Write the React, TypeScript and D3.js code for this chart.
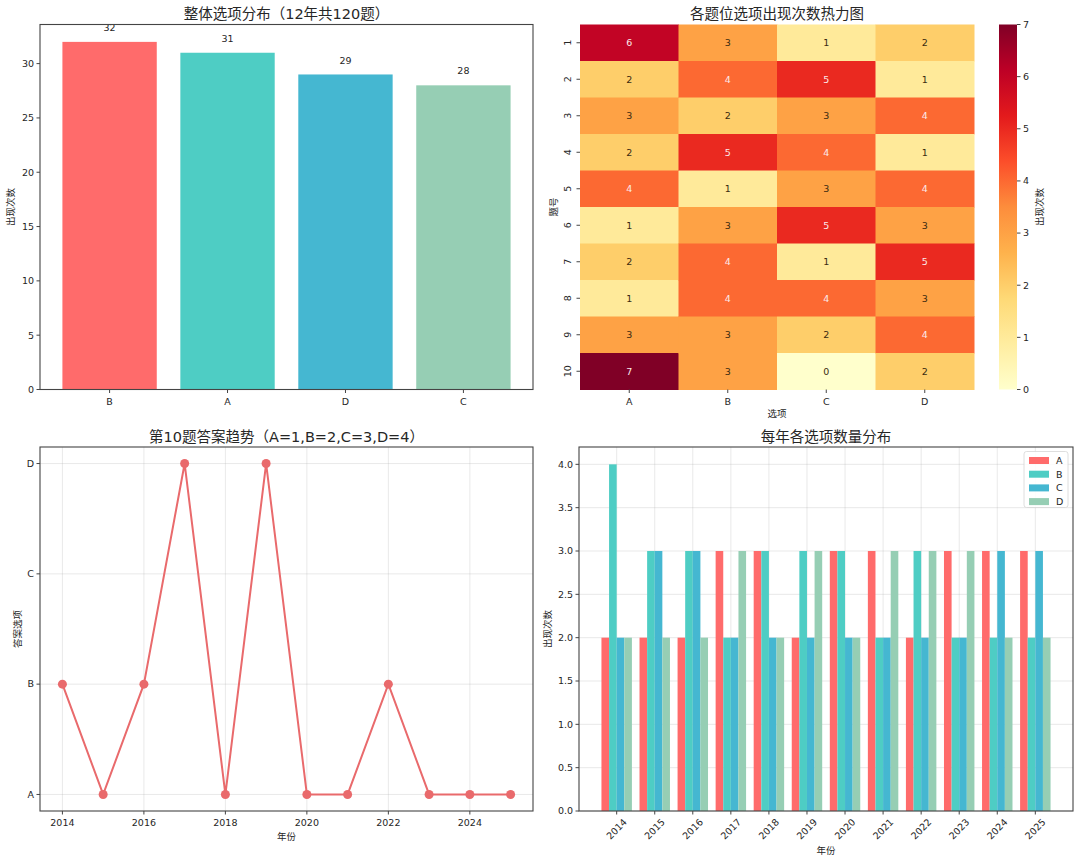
import React from 'react';
import * as d3 from 'd3';

// ---------- DATA ----------
const overallCats = ['B', 'A', 'D', 'C'];
const overallCounts = [32, 31, 29, 28];
const overallColors = ['#FF6B6B', '#4ECDC4', '#45B7D1', '#96CEB4'];

const heatRows = ['1', '2', '3', '4', '5', '6', '7', '8', '9', '10'];
const heatCols = ['A', 'B', 'C', 'D'];
const heatA = [6, 2, 3, 2, 4, 1, 2, 1, 3, 7];
const heatB = [3, 4, 2, 5, 1, 3, 4, 4, 3, 3];
const heatC = [1, 5, 3, 4, 3, 5, 1, 4, 2, 0];
const heatD = [2, 1, 4, 1, 4, 3, 5, 3, 4, 2];
const cbTicks = [0, 1, 2, 3, 4, 5, 6, 7];
const ylorrd = ['#ffffcc', '#ffeda0', '#fed976', '#feb24c', '#fd8d3c', '#fc4e2a', '#e31a1c', '#bd0026', '#800026'];

const years = [2014, 2015, 2016, 2017, 2018, 2019, 2020, 2021, 2022, 2023, 2024, 2025];
const q10Answers = ['B', 'A', 'B', 'D', 'A', 'D', 'A', 'A', 'B', 'A', 'A', 'A'];
const answerCodes = ['A', 'B', 'C', 'D'];
const lineXTicks = [2014, 2016, 2018, 2020, 2022, 2024];

const yearA = [2, 2, 2, 3, 3, 2, 3, 3, 2, 3, 3, 3];
const yearB = [4, 3, 3, 2, 3, 3, 3, 2, 3, 2, 2, 2];
const yearC = [2, 3, 3, 2, 2, 2, 2, 2, 2, 2, 3, 3];
const yearD = [2, 2, 2, 3, 2, 3, 2, 3, 3, 3, 2, 2];
const yearSeriesNames = ['A', 'B', 'C', 'D'];
const yearColors = ['#FF6B6B', '#4ECDC4', '#45B7D1', '#96CEB4'];
const yearYTicks = [0, 0.5, 1, 1.5, 2, 2.5, 3, 3.5, 4];

// ---------- STYLE ----------
const FONT = '"DejaVu Sans", "Noto Sans CJK SC", sans-serif';
const TXT = '#262626';
const SPINE = '#444';
const GRID = 'rgba(176,176,176,0.35)';
const TICK_FS = 9.5;

function luminance(c: string) {
  const rgb = d3.rgb(c);
  const f = (v: number) => {
    v = v / 255;
    return v <= 0.03928 ? v / 12.92 : Math.pow((v + 0.055) / 1.055, 2.4);
  };
  return 0.2126 * f(rgb.r) + 0.7152 * f(rgb.g) + 0.0722 * f(rgb.b);
}

function Frame({ x0, x1, y0, y1 }: any) {
  return <rect x={x0} y={y0} width={x1 - x0} height={y1 - y0} fill="none" stroke={SPINE} strokeWidth={1.1} />;
}

function OverallBar() {
  const L = 40, R = 533, T = 24.5, B = 389.5;
  const x = d3.scaleLinear().domain([-0.59, 3.59]).range([L, R]);
  const y = d3.scaleLinear().domain([0, 33.6]).range([B, T]);
  const yt = d3.range(0, 31, 5);
  return (
    <g>
      <text x={(L + R) / 2} y={19} textAnchor="middle" fontSize={14.5} fill={TXT}>整体选项分布（12年共120题）</text>
      {overallCats.map((c, i) => (
        <g key={c}>
          <rect x={x(i - 0.4)} y={y(overallCounts[i])} width={x(i + 0.4) - x(i - 0.4)} height={B - y(overallCounts[i])} fill={overallColors[i]} />
          <text x={x(i)} y={y(overallCounts[i] + 1)} textAnchor="middle" fontSize={9.5} fill={TXT}>{overallCounts[i]}</text>
          <line x1={x(i)} x2={x(i)} y1={B} y2={B + 3.5} stroke={SPINE} />
          <text x={x(i)} y={B + 15} textAnchor="middle" fontSize={TICK_FS} fill={TXT}>{c}</text>
        </g>
      ))}
      {yt.map(v => (
        <g key={v}>
          <line x1={L - 3.5} x2={L} y1={y(v)} y2={y(v)} stroke={SPINE} />
          <text x={L - 6} y={y(v)} dy="0.35em" textAnchor="end" fontSize={TICK_FS} fill={TXT}>{v}</text>
        </g>
      ))}
      <Frame x0={L} x1={R} y0={T} y1={B} />
      <text transform={`translate(14,${(T + B) / 2}) rotate(-90)`} textAnchor="middle" fontSize={9.5} fill={TXT}>出现次数</text>
    </g>
  );
}

function Heatmap() {
  const L = 580, R = 974, T = 24.5, B = 389.5;
  const x = d3.scaleBand().domain(heatCols).range([L, R]);
  const y = d3.scaleBand().domain(heatRows).range([T, B]);
  const cols = [heatA, heatB, heatC, heatD];
  const color = d3.scaleLinear<string>().domain(d3.range(9).map(i => (i * 7) / 8)).range(ylorrd).interpolate(d3.interpolateRgb);
  const cbL = 999, cbR = 1017;
  const cy = d3.scaleLinear().domain([0, 7]).range([B, T]);
  return (
    <g>
      <defs>
        <linearGradient id="cbgrad" x1="0" y1="1" x2="0" y2="0">
          {ylorrd.map((c, i) => <stop key={i} offset={i / 8} stopColor={c} />)}
        </linearGradient>
      </defs>
      <text x={(L + R) / 2} y={19} textAnchor="middle" fontSize={14.5} fill={TXT}>各题位选项出现次数热力图</text>
      {heatCols.map((c, j) =>
        heatRows.map((r, i) => {
          const v = cols[j][i];
          const fill = color(v);
          const tc = luminance(fill) > 0.408 ? '#3a2a10' : '#fbeaea';
          return (
            <g key={c + r}>
              <rect x={x(c)!} y={y(r)!} width={x.bandwidth() + 0.5} height={y.bandwidth() + 0.5} fill={fill} />
              <text x={x(c)! + x.bandwidth() / 2} y={y(r)! + y.bandwidth() / 2} dy="0.35em" textAnchor="middle" fontSize={9.5} fill={tc}>{v}</text>
            </g>
          );
        })
      )}
      {heatCols.map(c => (
        <g key={c}>
          <line x1={x(c)! + x.bandwidth() / 2} x2={x(c)! + x.bandwidth() / 2} y1={B} y2={B + 3.5} stroke={SPINE} />
          <text x={x(c)! + x.bandwidth() / 2} y={B + 15} textAnchor="middle" fontSize={TICK_FS} fill={TXT}>{c}</text>
        </g>
      ))}
      {heatRows.map(r => (
        <g key={r}>
          <line x1={L - 3.5} x2={L} y1={y(r)! + y.bandwidth() / 2} y2={y(r)! + y.bandwidth() / 2} stroke={SPINE} />
          <text transform={`translate(${L - 9},${y(r)! + y.bandwidth() / 2}) rotate(-90)`} dy="0.0em" textAnchor="middle" fontSize={TICK_FS} fill={TXT}>{r}</text>
        </g>
      ))}
      <text x={(L + R) / 2} y={417} textAnchor="middle" fontSize={9.5} fill={TXT}>选项</text>
      <text transform={`translate(557,${(T + B) / 2}) rotate(-90)`} textAnchor="middle" fontSize={9.5} fill={TXT}>题号</text>
      <rect x={cbL} y={T} width={cbR - cbL} height={B - T} fill="url(#cbgrad)" />
      {cbTicks.map(v => (
        <g key={v}>
          <line x1={cbR} x2={cbR + 3.5} y1={cy(v)} y2={cy(v)} stroke={SPINE} />
          <text x={cbR + 6} y={cy(v)} dy="0.35em" fontSize={TICK_FS} fill={TXT}>{v}</text>
        </g>
      ))}
      <text transform={`translate(1043,${(T + B) / 2}) rotate(-90)`} textAnchor="middle" fontSize={9.5} fill={TXT}>出现次数</text>
    </g>
  );
}

function TrendLine() {
  const L = 40, R = 533, T = 447, B = 811;
  const x = d3.scaleLinear().domain([2013.45, 2025.55]).range([L, R]);
  const y = d3.scaleLinear().domain([0.85, 4.15]).range([B, T]);
  const vals = q10Answers.map(a => answerCodes.indexOf(a) + 1);
  const line = d3.line<number>().x((_, i) => x(years[i])).y(v => y(v));
  const lineColor = '#E96A6C';
  return (
    <g>
      <text x={(L + R) / 2} y={442} textAnchor="middle" fontSize={14.5} fill={TXT}>第10题答案趋势（A=1,B=2,C=3,D=4）</text>
      {lineXTicks.map(t => <line key={t} x1={x(t)} x2={x(t)} y1={T} y2={B} stroke={GRID} strokeWidth={0.8} />)}
      {answerCodes.map((c, i) => <line key={c} x1={L} x2={R} y1={y(i + 1)} y2={y(i + 1)} stroke={GRID} strokeWidth={0.8} />)}
      <path d={line(vals) || ''} fill="none" stroke={lineColor} strokeWidth={2} />
      {vals.map((v, i) => <circle key={i} cx={x(years[i])} cy={y(v)} r={4.5} fill={lineColor} />)}
      {lineXTicks.map(t => (
        <g key={t}>
          <line x1={x(t)} x2={x(t)} y1={B} y2={B + 3.5} stroke={SPINE} />
          <text x={x(t)} y={B + 15} textAnchor="middle" fontSize={TICK_FS} fill={TXT}>{t}</text>
        </g>
      ))}
      {answerCodes.map((c, i) => (
        <g key={c}>
          <line x1={L - 3.5} x2={L} y1={y(i + 1)} y2={y(i + 1)} stroke={SPINE} />
          <text x={L - 6} y={y(i + 1)} dy="0.35em" textAnchor="end" fontSize={TICK_FS} fill={TXT}>{c}</text>
        </g>
      ))}
      <Frame x0={L} x1={R} y0={T} y1={B} />
      <text x={(L + R) / 2} y={840} textAnchor="middle" fontSize={9.5} fill={TXT}>年份</text>
      <text transform={`translate(21,${(T + B) / 2}) rotate(-90)`} textAnchor="middle" fontSize={9.5} fill={TXT}>答案选项</text>
    </g>
  );
}

function YearBars() {
  const L = 579, R = 1073, T = 447, B = 811;
  const w = 0.2;
  const x = d3.scaleLinear().domain([-0.99, years.length - 1 + 0.99]).range([L, R]);
  const y = d3.scaleLinear().domain([0, 4.2]).range([B, T]);
  const series = [yearA, yearB, yearC, yearD];
  return (
    <g>
      <text x={(L + R) / 2} y={442} textAnchor="middle" fontSize={14.5} fill={TXT}>每年各选项数量分布</text>
      {years.map((yr, i) => <line key={yr} x1={x(i)} x2={x(i)} y1={T} y2={B} stroke={GRID} strokeWidth={0.8} />)}
      {yearYTicks.map(v => <line key={v} x1={L} x2={R} y1={y(v)} y2={y(v)} stroke={GRID} strokeWidth={0.8} />)}
      {series.map((s, j) =>
        s.map((v, i) => {
          const x0 = x(i + (j - 2) * w);
          const x1 = x(i + (j - 1) * w);
          return <rect key={j + '-' + i} x={x0} y={y(v)} width={x1 - x0} height={B - y(v)} fill={yearColors[j]} />;
        })
      )}
      {years.map((yr, i) => (
        <g key={yr}>
          <line x1={x(i)} x2={x(i)} y1={B} y2={B + 3.5} stroke={SPINE} />
          <text transform={`translate(${x(i)},${B + 18}) rotate(-45)`} dy="0.35em" textAnchor="middle" fontSize={TICK_FS} fill={TXT}>{yr}</text>
        </g>
      ))}
      {yearYTicks.map(v => (
        <g key={v}>
          <line x1={L - 3.5} x2={L} y1={y(v)} y2={y(v)} stroke={SPINE} />
          <text x={L - 6} y={y(v)} dy="0.35em" textAnchor="end" fontSize={TICK_FS} fill={TXT}>{v.toFixed(1)}</text>
        </g>
      ))}
      <Frame x0={L} x1={R} y0={T} y1={B} />
      <text x={(L + R) / 2} y={854} textAnchor="middle" fontSize={9.5} fill={TXT}>年份</text>
      <text transform={`translate(551,${(T + B) / 2}) rotate(-90)`} textAnchor="middle" fontSize={9.5} fill={TXT}>出现次数</text>
      <g>
        <rect x={1024} y={451.5} width={44} height={56} rx={2.5} fill="rgba(255,255,255,0.85)" stroke="#d6d6d6" strokeWidth={0.8} />
        {yearSeriesNames.map((n, j) => (
          <g key={n}>
            <rect x={1029} y={457 + j * 13.7} width={20} height={7} fill={yearColors[j]} />
            <text x={1056} y={460.5 + j * 13.7} dy="0.35em" fontSize={TICK_FS} fill={TXT}>{n}</text>
          </g>
        ))}
      </g>
    </g>
  );
}

export default function App() {
  return (
    <svg width={1080} height={863} style={{ position: 'absolute', left: 0, top: 0, background: '#fff' }} fontFamily={FONT}>
      <rect width={1080} height={863} fill="#fff" />
      <OverallBar />
      <Heatmap />
      <TrendLine />
      <YearBars />
    </svg>
  );
}
